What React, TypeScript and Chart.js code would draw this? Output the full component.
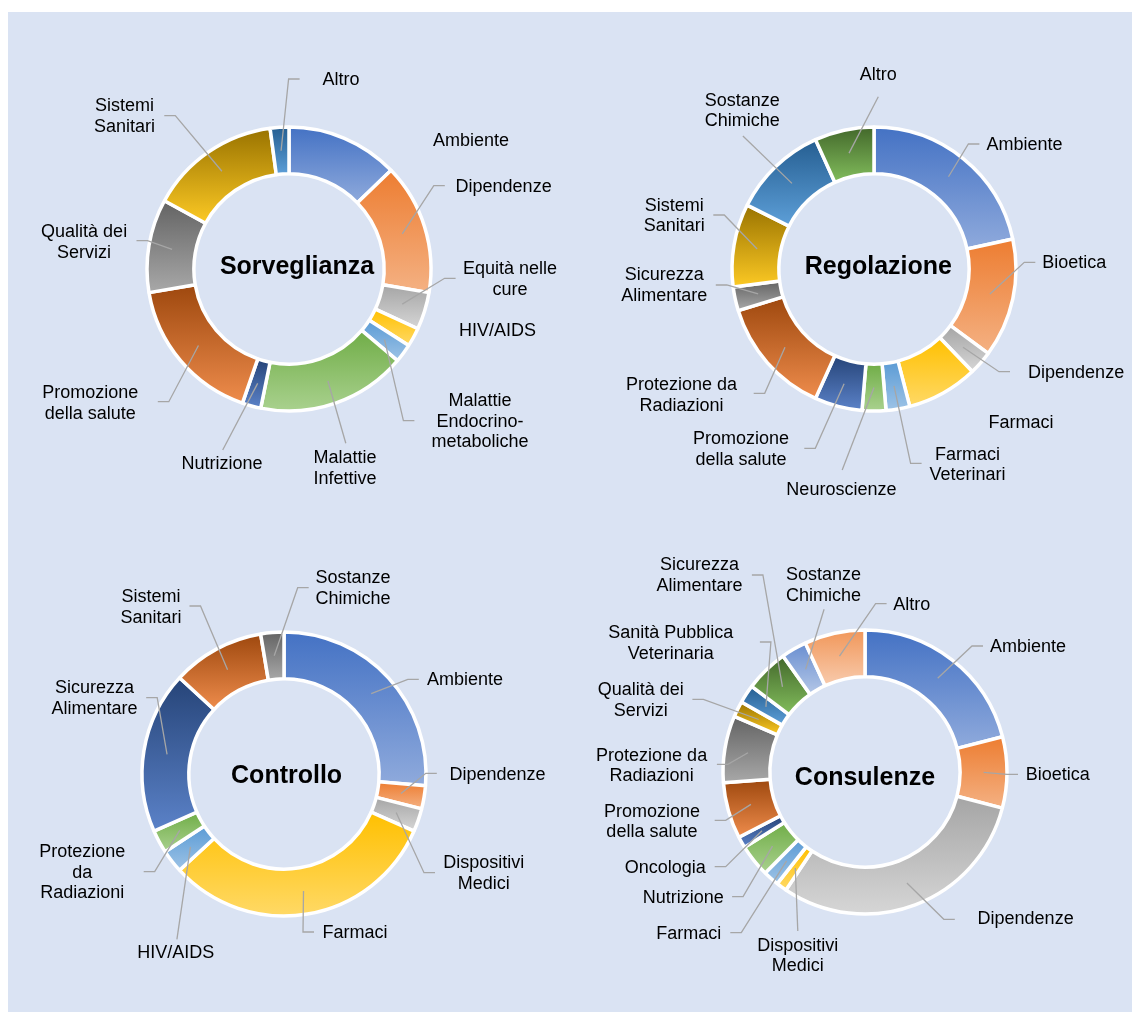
import React, { useEffect, useRef } from 'react';
import { Chart, registerables } from 'chart.js';

Chart.register(...registerables);

// ---------------- DATA ----------------
const sorvTitle = 'Sorveglianza';
const sorvCategories = [
  'Ambiente', 'Dipendenze', 'Equità nelle\ncure', 'HIV/AIDS', 'Malattie\nEndocrino-\nmetaboliche',
  'Malattie\nInfettive', 'Nutrizione', 'Promozione\ndella salute', 'Qualità dei\nServizi', 'Sistemi\nSanitari', 'Altro',
];
const sorvValues = [6, 7, 2, 1, 1, 8, 1, 8, 5, 7, 1];

const regTitle = 'Regolazione';
const regCategories = [
  'Ambiente', 'Bioetica', 'Dipendenze', 'Farmaci', 'Farmaci\nVeterinari', 'Neuroscienze',
  'Promozione\ndella salute', 'Protezione da\nRadiazioni', 'Sicurezza\nAlimentare', 'Sistemi\nSanitari',
  'Sostanze\nChimiche', 'Altro',
];
const regValues = [16, 10, 2, 6, 2, 2, 4, 10, 2, 7, 8, 5];

const ctrlTitle = 'Controllo';
const ctrlCategories = [
  'Ambiente', 'Dipendenze', 'Dispositivi\nMedici', 'Farmaci', 'HIV/AIDS', 'Protezione\nda\nRadiazioni',
  'Sicurezza\nAlimentare', 'Sistemi\nSanitari', 'Sostanze\nChimiche',
];
const ctrlValues = [10, 1, 1, 12, 1, 1, 7, 4, 1];

const consTitle = 'Consulenze';
const consCategories = [
  'Ambiente', 'Bioetica', 'Dipendenze', 'Dispositivi\nMedici', 'Farmaci', 'Nutrizione', 'Oncologia',
  'Promozione\ndella salute', 'Protezione da\nRadiazioni', 'Qualità dei\nServizi', 'Sanità Pubblica\nVeterinaria',
  'Sicurezza\nAlimentare', 'Sostanze\nChimiche', 'Altro',
];
const consValues = [21.0, 8.1, 30.3, 1.2, 1.8, 3.7, 1.3, 6.4, 7.6, 1.8, 2.1, 4.9, 2.9, 6.9];

// ---------------- STYLE / LAYOUT ----------------
const TOP_COLORS = [
  '#4472C4', '#ED7D31', '#A5A5A5', '#FFC000', '#5B9BD5', '#70AD47',
  '#264478', '#9E480E', '#636363', '#997300', '#255E91', '#43682B', '#698ED0', '#F1975A',
];
const BOTTOM_COLORS = [
  '#8FAADC', '#F4B183', '#D6D6D6', '#FFD966', '#9DC3E6', '#A9D18E',
  '#5B82C8', '#EE8C4C', '#A8A8A8', '#FCC924', '#5D9FD8', '#82BD5C', '#B4C7E7', '#F8CBAD',
];

const FONT = '"Liberation Sans", Arial, Helvetica, sans-serif';
const LINE_H = 20.7;
const OUTER_R = 142;
const CUTOUT = 0.67;
const CANVAS_W = 560;
const CANVAS_H = 500;

// label layout: [dx, dy, endX|null, endY, stub]
type LabelPos = [number, number, number | null, number, boolean];

const sorvLabelPos: LabelPos[] = [
  [182, -128, null, 0, false],
  [214.6, -82, 155.8, -83.3, true],
  [221, 10.3, 166.6, 9.3, true],
  [208.5, 61.7, null, 0, false],
  [191, 152.7, 125.4, 151.7, true],
  [56, 199.3, 56.8, 174.3, false],
  [-67, 195.3, -66.3, 181, false],
  [-198.7, 134.3, -131.2, 132.7, true],
  [-204.9, -26.7, -152.5, -28.3, true],
  [-164.5, -152.3, -124.7, -153.3, true],
  [52, -189, 10.6, -190, true],
];
const regLabelPos: LabelPos[] = [
  [150.5, -124, 105.4, -125, true],
  [200.3, -5.7, 161.3, -6.7, true],
  [202.1, 103.7, 136, 102.7, true],
  [146.9, 153.7, null, 0, false],
  [93.4, 196, 47.6, 194.3, true],
  [-32.6, 221, -31.8, 201, false],
  [-132.9, 180.3, -69.7, 179.3, true],
  [-192.5, 126.7, -120.3, 124.3, true],
  [-209.8, 16.7, -158.2, 16, true],
  [-199.7, -53, -160.7, -54, true],
  [-131.8, -158, -131.1, -133, false],
  [4.3, -194, 4.3, -172.3, false],
];
const ctrlLabelPos: LabelPos[] = [
  [181, -94, 134.8, -94.7, true],
  [213.5, 1.3, 152.8, -0.7, true],
  [199.8, 99.7, 151, 98.7, true],
  [70.9, 158.7, 30, 158, true],
  [-108.2, 179.3, -107.1, 165.3, false],
  [-201.7, 98.7, -140.3, 97.7, true],
  [-189.4, -75.3, -137.8, -76.3, true],
  [-133.1, -166.3, -94.5, -168, true],
  [69, -185.7, 24.7, -186.3, true],
];
const consLabelPos: LabelPos[] = [
  [163.1, -125.3, 118, -126, true],
  [192.7, 2.7, 153, 2.3, true],
  [160.6, 147.3, 89.8, 147.3, true],
  [-67.2, 184, -67.2, 159, false],
  [-176.3, 161.7, -134.7, 160.7, true],
  [-181.7, 125.7, -132.9, 124.7, true],
  [-199.7, 95.7, -150.3, 94.7, true],
  [-213.1, 50, -150.3, 48.3, true],
  [-213.4, -6, -148.1, -7.7, true],
  [-224.3, -71.7, -172.6, -72.7, true],
  [-194.3, -128.7, -105.1, -130, true],
  [-165.4, -196.7, -113.1, -197, true],
  [-41.6, -186.7, -40.9, -162.7, false],
  [46.8, -167, 21.6, -168.3, true],
];

type Spec = {
  title: string;
  categories: string[];
  values: number[];
  labelPos: LabelPos[];
  titleOffset: [number, number];
  left: number;
  top: number;
};

const SPECS: Spec[] = [
  { title: sorvTitle, categories: sorvCategories, values: sorvValues, labelPos: sorvLabelPos, titleOffset: [8, -2.3], left: 1, top: 7 },
  { title: regTitle, categories: regCategories, values: regValues, labelPos: regLabelPos, titleOffset: [4.3, -2.3], left: 586, top: 7 },
  { title: ctrlTitle, categories: ctrlCategories, values: ctrlValues, labelPos: ctrlLabelPos, titleOffset: [2.6, 2], left: -4, top: 512 },
  { title: consTitle, categories: consCategories, values: consValues, labelPos: consLabelPos, titleOffset: [0, 5.7], left: 577, top: 510 },
];

function makeGradient(c: any) {
  const chart = c.chart;
  const i = c.dataIndex;
  const area = chart.chartArea;
  const top = TOP_COLORS[i % TOP_COLORS.length];
  const bottom = BOTTOM_COLORS[i % BOTTOM_COLORS.length];
  if (!area) return top;
  const data: number[] = c.dataset.data;
  const total = data.reduce((a, b) => a + b, 0);
  let before = 0;
  for (let k = 0; k < i; k++) before += data[k];
  const a0 = -Math.PI / 2 + (2 * Math.PI * before) / total;
  const a1 = -Math.PI / 2 + (2 * Math.PI * (before + data[i])) / total;
  const cy = (area.top + area.bottom) / 2;
  const R = OUTER_R;
  const r = OUTER_R * CUTOUT;
  const ys = [cy + R * Math.sin(a0), cy + r * Math.sin(a0), cy + R * Math.sin(a1), cy + r * Math.sin(a1)];
  let minY = Math.min(...ys);
  let maxY = Math.max(...ys);
  if (a0 < Math.PI / 2 && a1 > Math.PI / 2) maxY = cy + R;
  if (a1 >= (3 * Math.PI) / 2 - 1e-9 || a0 <= -Math.PI / 2 + 1e-9) minY = Math.min(minY, cy - R);
  const g = chart.ctx.createLinearGradient(0, minY, 0, maxY);
  g.addColorStop(0, top);
  g.addColorStop(1, bottom);
  return g;
}

function makeLabelPlugin(spec: Spec) {
  return {
    id: 'donutLabels',
    afterDatasetsDraw(chart: any) {
      const ctx = chart.ctx;
      const area = chart.chartArea;
      const cx = (area.left + area.right) / 2;
      const cy = (area.top + area.bottom) / 2;
      const meta = chart.getDatasetMeta(0);
      ctx.save();
      // leader lines
      ctx.strokeStyle = '#A6A6A6';
      ctx.lineWidth = 1.3;
      ctx.lineJoin = 'miter';
      spec.labelPos.forEach((lp, i) => {
        const [dx, , ex, ey, stub] = lp;
        if (ex === null) return;
        const arc = meta.data[i];
        const p = arc.getCenterPoint();
        const endX = cx + ex;
        const endY = cy + ey;
        ctx.beginPath();
        ctx.moveTo(p.x, p.y);
        if (stub) {
          const dir = dx > ex ? 1 : -1;
          ctx.lineTo(endX - dir * 11, endY);
        }
        ctx.lineTo(endX, endY);
        ctx.stroke();
      });
      // label text
      ctx.fillStyle = '#000000';
      ctx.font = `18px ${FONT}`;
      ctx.textAlign = 'center';
      ctx.textBaseline = 'middle';
      spec.labelPos.forEach((lp, i) => {
        const [dx, dy] = lp;
        const lines = String(spec.categories[i]).split('\n');
        const n = lines.length;
        lines.forEach((ln, k) => {
          ctx.fillText(ln, cx + dx, cy + dy + (k - (n - 1) / 2) * LINE_H);
        });
      });
      // title
      ctx.font = `bold 25px ${FONT}`;
      ctx.fillText(spec.title, cx + spec.titleOffset[0], cy + spec.titleOffset[1]);
      ctx.restore();
    },
  };
}

function Donut({ spec }: { spec: Spec }) {
  const ref = useRef<HTMLCanvasElement>(null);
  useEffect(() => {
    if (!ref.current) return;
    const chart = new Chart(ref.current, {
      type: 'doughnut',
      data: {
        labels: spec.categories,
        datasets: [
          {
            data: spec.values,
            backgroundColor: makeGradient as any,
            borderColor: '#FFFFFF',
            borderWidth: 3.5,
          },
        ],
      },
      options: {
        responsive: false,
        animation: false,
        radius: OUTER_R,
        cutout: `${CUTOUT * 100}%`,
        layout: { padding: 0 },
        events: [],
        plugins: {
          legend: { display: false },
          tooltip: { enabled: false },
        },
      } as any,
      plugins: [makeLabelPlugin(spec)],
    });
    return () => chart.destroy();
  }, [spec]);
  return (
    <canvas
      ref={ref}
      width={CANVAS_W}
      height={CANVAS_H}
      style={{ position: 'absolute', left: spec.left, top: spec.top, width: CANVAS_W, height: CANVAS_H }}
    />
  );
}

export default function App() {
  return (
    <div
      style={{
        position: 'absolute',
        left: 8,
        top: 12,
        width: 1124,
        height: 1000,
        background: '#DAE3F3',
        overflow: 'hidden',
      }}
    >
      {SPECS.map((s) => (
        <Donut key={s.title} spec={s} />
      ))}
    </div>
  );
}
